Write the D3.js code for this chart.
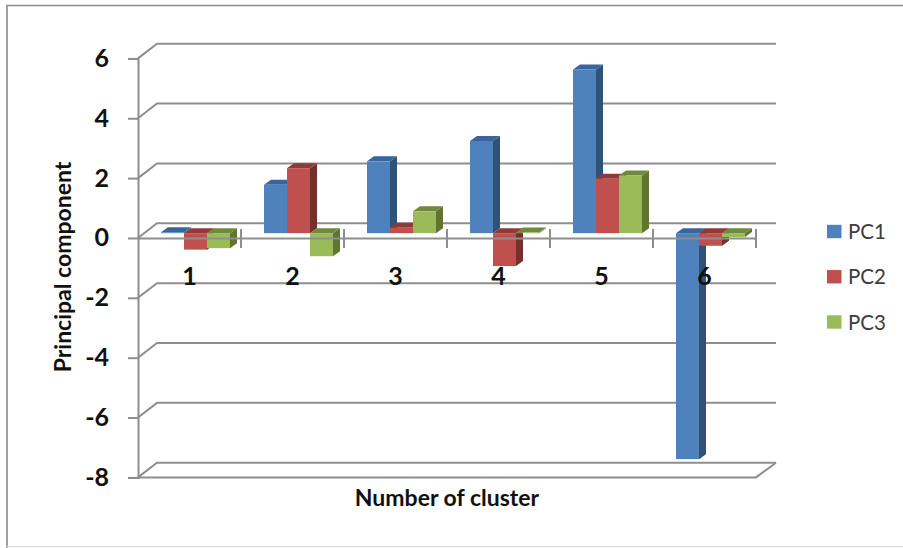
<!DOCTYPE html>
<html>
<head>
<meta charset="utf-8">
<script src="https://cdn.jsdelivr.net/npm/d3@7/dist/d3.min.js"></script>
<style>
html, body { margin: 0; padding: 0; background: #fff; }
svg { display: block; }
text { font-family: Lato, "Open Sans", sans-serif; }
</style>
</head>
<body>
<svg id="chart" width="903" height="548"></svg>
<script>
const clusters = ["1", "2", "3", "4", "5", "6"];
const seriesNames = ["PC1", "PC2", "PC3"];
const pc1 = [0.03, 1.62, 2.4, 3.08, 5.47, -7.55];
const pc2 = [-0.55, 2.17, 0.18, -1.1, 1.82, -0.42];
const pc3 = [-0.5, -0.77, 0.73, 0.02, 1.93, -0.13];
const seriesValues = [pc1, pc2, pc3];
const valueTicks = [-8, -6, -4, -2, 0, 2, 4, 6];

const faces = {
  PC1: { front: "#4f81bd", top: "#3a659c", side: "#2f5279" },
  PC2: { front: "#c0504d", top: "#8e3a38", side: "#772f2d" },
  PC3: { front: "#9bbb59", top: "#71893f", side: "#5f7530" }
};
const lineColor = "#8e8e8e";

const svg = d3.select("#chart");
const left = 138, right = 756;
const wallDx = 19, wallDy = -14.7;      // floor and wall depth
const barDx = 7, barDy = -5;            // depth of each bar
const barLift = -4.8;                   // bars stand slightly behind the front edge

const x = d3.scaleBand().domain(clusters).range([left, right]);
const inner = d3.scaleBand().domain(seriesNames).range([23, 92]);
const y = d3.scaleLinear().domain([-8, 6]).range([477.4, 58.4]);

// Outer frame
const frame = svg.append("g").attr("fill", "none");
frame.append("path").attr("d", "M7,548V5.5H903").attr("stroke", "#8a8a8a").attr("stroke-width", 1.6);
frame.append("path").attr("d", "M7,546.7H903").attr("stroke", "#dcdcdc").attr("stroke-width", 1.2);

// Back wall gridlines with their diagonal returns to the value axis
const grid = svg.append("g").attr("fill", "none").attr("stroke", lineColor).attr("stroke-width", 2);
grid.selectAll("path").data(valueTicks).join("path")
  .attr("d", d => {
    const p = d3.path();
    p.moveTo(left, y(d));
    p.lineTo(left + wallDx, y(d) + wallDy);
    p.lineTo(right + wallDx + 1, y(d) + wallDy);
    return p.toString();
  });

// Floor outline at the bottom of the value range
grid.append("path").attr("d", () => {
  const p = d3.path();
  p.moveTo(left, y(-8));
  p.lineTo(right, y(-8));
  p.lineTo(right + wallDx + 1, y(-8) + wallDy);
  return p.toString();
});

// Bars: side and top faces first, then the front face
const barData = clusters.flatMap((c, i) =>
  seriesNames.map((s, j) => ({ c, s, v: seriesValues[j][i] })));

const bars = svg.append("g").selectAll("g").data(barData).join("g");
const bx = d => x(d.c) + inner(d.s);
const bw = inner.bandwidth();
const by0 = y(0) + barLift;
const byV = d => y(d.v) + barLift;

bars.append("path")
  .attr("fill", d => faces[d.s].side)
  .attr("d", d => {
    const r = bx(d) + bw, t = Math.min(by0, byV(d)), b = Math.max(by0, byV(d));
    return `M${r},${t}l${barDx},${barDy}V${b + barDy}l${-barDx},${-barDy}Z`;
  });
bars.append("path")
  .attr("fill", d => faces[d.s].top)
  .attr("d", d => {
    const l = bx(d), t = Math.min(by0, byV(d));
    return `M${l},${t}l${barDx},${barDy}h${bw}l${-barDx},${-barDy}Z`;
  });
bars.append("rect")
  .attr("fill", d => faces[d.s].front)
  .attr("x", bx)
  .attr("width", bw)
  .attr("y", d => Math.min(by0, byV(d)))
  .attr("height", d => Math.abs(byV(d) - by0));

// Value axis
const yAxis = svg.append("g")
  .attr("transform", `translate(${left},0)`)
  .call(d3.axisLeft(y).tickValues(valueTicks).tickSize(10).tickPadding(19).tickFormat(d3.format("d")));
yAxis.select(".domain").attr("stroke", lineColor).attr("stroke-width", 2);
yAxis.selectAll(".tick line").attr("stroke", lineColor).attr("stroke-width", 2);
yAxis.selectAll("text")
  .attr("font-size", 25).attr("font-weight", 700).attr("fill", "#111")
  .text(d => String(d).replace("\u2212", "-"));

// Category axis along the zero line
const xAxis = svg.append("g")
  .attr("transform", `translate(0,${y(0)})`)
  .call(d3.axisBottom(x).tickSize(0).tickPadding(29));
xAxis.select(".domain").attr("stroke", lineColor).attr("stroke-width", 2);
xAxis.selectAll("text").attr("font-size", 25).attr("font-weight", 700).attr("fill", "#111");

// Separators between clusters on the zero line
svg.append("g").attr("stroke", lineColor).attr("stroke-width", 2)
  .selectAll("line").data(clusters).join("line")
  .attr("x1", d => x(d) + x.step()).attr("x2", d => x(d) + x.step())
  .attr("y1", y(0) - 9).attr("y2", y(0) + 10);

// Axis titles
svg.append("text").text("Number of cluster")
  .attr("x", 447).attr("y", 506).attr("text-anchor", "middle")
  .attr("font-size", 23).attr("font-weight", 700).attr("fill", "#111");
svg.append("text").text("Principal component")
  .attr("transform", "translate(71,267) rotate(-90)").attr("text-anchor", "middle")
  .attr("font-size", 23).attr("font-weight", 700).attr("fill", "#111");

// Legend
const legendY = d3.scalePoint().domain(seriesNames).range([231.5, 322]);
const legend = svg.append("g").selectAll("g").data(seriesNames).join("g")
  .attr("transform", d => `translate(827,${legendY(d)})`);
legend.append("rect").attr("x", 0).attr("y", -6.7).attr("width", 14.5).attr("height", 13.4)
  .attr("fill", d => faces[d].front);
legend.append("text").text(d => d).attr("x", 21).attr("y", 7.5)
  .attr("font-size", 20.5).attr("fill", "#3c3c3c");
</script>
</body>
</html>
